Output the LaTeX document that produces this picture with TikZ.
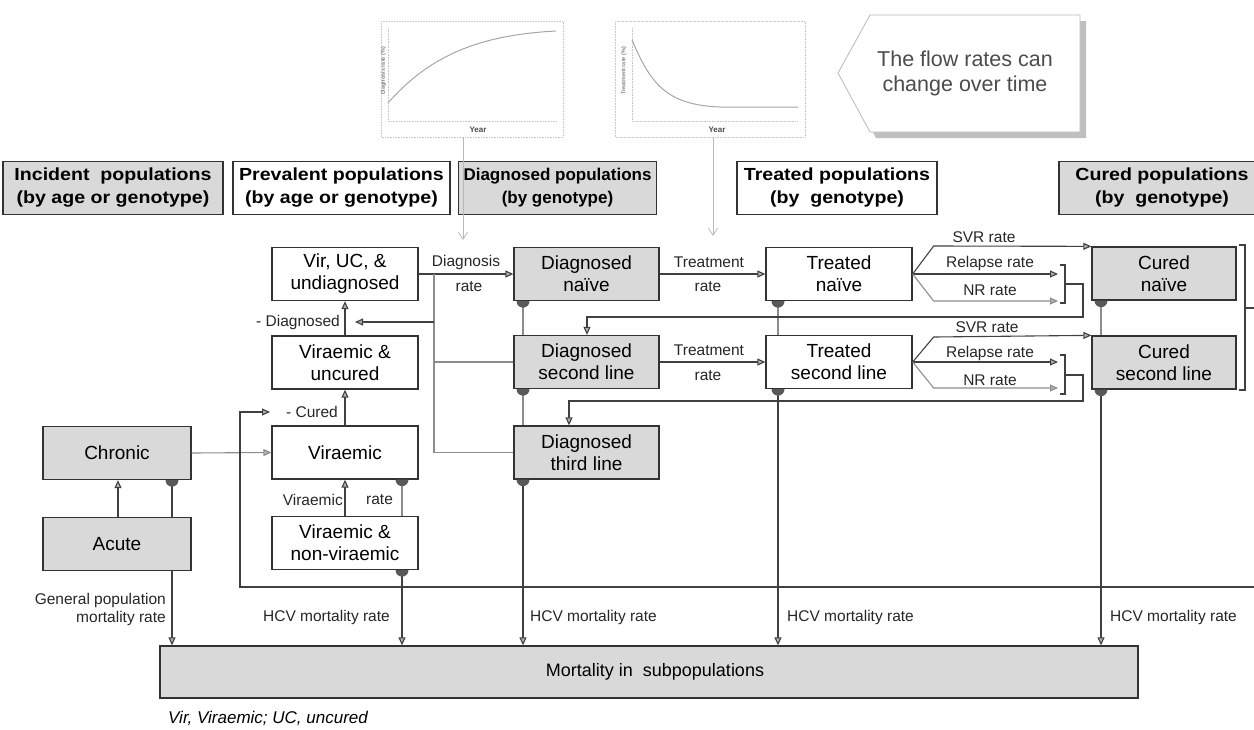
\documentclass[tikz,border=0pt]{standalone}
\usepackage{fontspec}
\setmainfont{Liberation Sans}
\newfontfamily\hdr[FakeStretch=1.12]{Liberation Sans}
\usetikzlibrary{arrows.meta}
\begin{document}
\begin{tikzpicture}[x=1pt,y=-1pt,
 box/.style={draw=black!80,line width=1.3pt,minimum width=146pt,minimum height=53pt,align=center,font=\fontsize{19}{22}\selectfont,inner sep=0pt},
 gbox/.style={box,fill=gray!30},
 wbox/.style={box,fill=white},
 hdrbox/.style={draw=black!80,line width=1.3pt,align=center,inner sep=0pt,minimum height=53pt,font=\hdr\bfseries\fontsize{17.5}{23}\selectfont},
 ln/.style={draw=black!75,line width=1.1pt},
 soft/.style={draw=black!45,line width=1.1pt},
 arr/.style={ln,-{Triangle[length=8pt,width=7pt,fill=gray!60]}},
 sarr/.style={soft,-{Triangle[length=8pt,width=7pt,fill=gray!60]}},
 garr/.style={draw=gray!55,line width=0.8pt,-{Straight Barb[length=7pt,width=9pt]}},
 lbl/.style={font=\fontsize{15.5}{18}\selectfont,inner sep=0pt,text=black!85},
 balls/.style={fill=black!65},
 chart/.style={draw=gray!45,line width=0.6pt,densely dotted}
]
\useasboundingbox (0,0) rectangle (1254,729);

% ---------- charts ----------
\draw[chart] (381,21) rectangle (563,137);
\draw[chart] (388,28) -- (388,121) -- (557,121);
\draw[gray!70,line width=1pt] (388,103) .. controls (430,55) and (480,35) .. (556,31);
\node[rotate=90,font=\bfseries\fontsize{5.5}{6}\selectfont,text=gray,inner sep=0pt] (ylab1) at (383.5,71) {Diagnosis rate (\%)};
\node[font=\bfseries\fontsize{8}{9}\selectfont,text=black!70,inner sep=0pt] (year1) at (478,130) {Year};
\coordinate (ch1) at (463,137);

\draw[chart] (615,21) rectangle (805,137);
\draw[chart] (632,28) -- (632,121) -- (798,121);
\draw[gray!70,line width=1pt] (632,40) .. controls (650,82) and (665,105) .. (720,107) -- (798,107);
\node[rotate=90,font=\bfseries\fontsize{5.5}{6}\selectfont,text=gray,inner sep=0pt] (ylab2) at (624,71) {Treatment rate (\%)};
\node[font=\bfseries\fontsize{8}{9}\selectfont,text=black!70,inner sep=0pt] (year2) at (717,130) {Year};
\coordinate (ch2) at (713,137);

% ---------- callout ----------
\fill[gray!50] (844,79) -- (876,21) -- (1086,21) -- (1086,138) -- (876,138) -- cycle;
\draw[gray!55,fill=white,line width=0.8pt] (838,73) -- (870,15) -- (1080,15) -- (1080,132) -- (870,132) -- cycle;
\node[text=black!70,font=\fontsize{21.5}{25}\selectfont,align=center] (call) at (965,73) {The flow rates can\\change over time};

% ---------- headers ----------
\node[hdrbox,fill=gray!30,minimum width=220pt] (hI) at (113,188) {Incident\ \ populations\\(by age or genotype)};
\node[hdrbox,fill=white,minimum width=217pt] (hP) at (341.5,188) {Prevalent populations\\(by age or genotype)};
\node[hdrbox,fill=gray!30,minimum width=198pt,font=\bfseries\fontsize{17}{23}\selectfont] (hD) at (557.5,188) {Diagnosed populations\\(by genotype)};
\node[hdrbox,fill=white,minimum width=200pt] (hT) at (837,188) {Treated populations\\(by\ \ genotype)};
\node[hdrbox,fill=gray!30,minimum width=206pt] (hC) at (1162,188) {Cured populations\\(by\ \ genotype)};

% ---------- model boxes ----------
\node[wbox] (vuc) at (345,274) {Vir, UC, \&\\undiagnosed};
\node[wbox] (vu) at (345,362.5) {Viraemic \&\\uncured};
\node[wbox] (vir) at (345,452.5) {Viraemic};
\node[wbox] (vnv) at (345,543) {Viraemic \&\\non-viraemic};
\node[gbox,minimum width=148pt] (chr) at (117,453) {Chronic};
\node[gbox,minimum width=148pt] (acu) at (117,544) {Acute};
\node[gbox,minimum width=145pt] (dn) at (586.5,274) {Diagnosed\\naïve};
\node[gbox,minimum width=145pt] (d2) at (586.5,362) {Diagnosed\\second line};
\node[gbox,minimum width=145pt] (d3) at (586.5,452.5) {Diagnosed\\third line};
\node[wbox] (tn) at (839,274) {Treated\\naïve};
\node[wbox] (t2) at (839,362) {Treated\\second line};
\node[gbox,minimum width=144pt] (cn) at (1164,273.5) {Cured\\naïve};
\node[gbox,minimum width=144pt] (c2) at (1164,362.5) {Cured\\second line};
\node[gbox,minimum width=978pt,minimum height=52pt] (mort) at (649,672) {};
\node[font=\fontsize{18}{20}\selectfont,inner sep=0pt] (mortt) at (655,672) {Mortality in\ \ subpopulations};

% ---------- x columns ----------
\coordinate (xC) at (172,0);
\coordinate (xA) at (118,0);
\coordinate (xV) at (402,0);
\coordinate (xL) at (434,0);
\coordinate (xD) at (523,0);
\coordinate (xT) at (778,0);
\coordinate (xK) at (1101,0);

% chart arrows
\draw[garr] (ch1) -- (ch1 |- 0,240);
\draw[garr] (ch2) -- (ch2 |- 0,236);

% ---------- prevalent column ----------
\draw[arr] (vir.north) -- (vu.south);
\draw[arr] (vu.north) -- (vuc.south);
\draw[arr] (vnv.north) -- (vir.south);
\node[lbl,anchor=east] (lv1) at (343,500) {Viraemic};
\node[lbl,anchor=west] (lv2) at (366,500) {rate};
\draw[soft] (vir.south -| xV) -- (vnv.north -| xV);
\draw[arr] (vnv.south -| xV) -- (mort.north -| xV);

% incident
\draw[arr] (acu.north -| xA) -- (chr.south -| xA);
\draw[ln] (chr.south -| xC) -- (acu.north -| xC);
\draw[arr] (acu.south -| xC) -- (mort.north -| xC);
\draw[sarr] (chr.east) -- (vir.west);
\node[lbl,align=right,anchor=east] (gpm) at (166,609) {General population\\mortality rate};

% diagnosis
\draw[arr] (vuc.east) -- (dn.west);
\node[lbl] (dr1) at (466,262) {Diagnosis};
\node[lbl] (dr2) at (469,287) {rate};
\draw[soft] (vuc.east -| xL) -- (d3.west -| xL) -- (d3.west);
\draw[soft] (d2.west -| xL) -- (d2.west);
\coordinate (dgtip) at (355,322);
\draw[arr] (dgtip -| xL) -- (dgtip);
\node[lbl,anchor=east] (dgl) at (340,322) {- Diagnosed};

% diagnosed column
\draw[soft] (dn.south -| xD) -- (d2.north -| xD);
\draw[soft] (d2.south -| xD) -- (d3.north -| xD);
\draw[arr] (d3.south -| xD) -- (mort.north -| xD);

% treatment
\draw[arr] (dn.east) -- (tn.west);
\node[lbl] (tr1) at (709,262) {Treatment};
\node[lbl] (tr2) at (708,287) {rate};
\draw[arr] (d2.east) -- (t2.west);
\node[lbl] (tr3) at (709,350) {Treatment};
\node[lbl] (tr4) at (708,376) {rate};

% treated column
\draw[soft] (tn.south -| xT) -- (t2.north -| xT);
\draw[arr] (t2.south -| xT) -- (mort.north -| xT);

% cured column
\draw[soft] (cn.south -| xK) -- (c2.north -| xK);
\draw[arr] (c2.south -| xK) -- (mort.north -| xK);

% outcomes treated naive
\coordinate (b1r) at (1058,274);
\coordinate (b1n) at (1058,301);
\draw[arr] (tn.east) -- ++(21,-28) -- (cn.north west);
\draw[arr] (tn.east) -- (b1r);
\draw[sarr] (tn.east) -- ++(21,27) -- (b1n);
\node[lbl] (s1) at (984,237) {SVR rate};
\node[lbl] (r1) at (990,263) {Relapse rate};
\node[lbl] (n1) at (990,290) {NR rate};
\draw[ln] (1060,265) -- (1065,265) -- (1065,303) -- (1060,303);
\draw[arr] (1065,284) -- (1083,284) -- (1083,317) -- (587,317) -- (d2.north -| 587,0);

% outcomes treated second line
\coordinate (b2r) at (1058,362);
\coordinate (b2n) at (1058,388);
\draw[arr] (t2.east) -- ++(21,-25) -- (c2.north west);
\draw[arr] (t2.east) -- (b2r);
\draw[sarr] (t2.east) -- ++(21,26) -- (b2n);
\node[lbl] (s2) at (987,327) {SVR rate};
\node[lbl] (r2) at (990,353) {Relapse rate};
\node[lbl] (n2) at (990,380) {NR rate};
\draw[ln] (1060,355) -- (1065,355) -- (1065,394) -- (1060,394);
\draw[arr] (1065,375) -- (1083,375) -- (1083,401) -- (569,401) -- (d3.north -| 569,0);

% cured bracket and loop
\draw[ln] (1239,245) -- (1245,245) -- (1245,390) -- (1239,390);
\draw[ln] (1245,308) -- (1256,308);
\coordinate (cutip) at (270,412);
\draw[arr] (1256,587) -- (240,587) -- (240,412) -- (cutip);
\node[lbl,anchor=west] (cul) at (286,412) {- Cured};

% HCV mortality labels
\node[lbl,anchor=east] (h1) at (390,617) {HCV mortality rate};
\node[lbl,anchor=west] (h2) at (530,617) {HCV mortality rate};
\node[lbl,anchor=west] (h3) at (787,617) {HCV mortality rate};
\node[lbl,anchor=west] (h4) at (1110,617) {HCV mortality rate};

% balls
\foreach \n/\c in {chr/xC,vir/xV,vnv/xV,dn/xD,d2/xD,d3/xD,tn/xT,t2/xT,cn/xK,c2/xK}{
  \fill[balls] (\n.south -| \c) ++(-6.5,0) arc[start angle=180,end angle=0,radius=6.5] -- cycle;
}

% footnote
\node[anchor=west,font=\itshape\fontsize{17}{20}\selectfont,inner sep=0pt] (fn) at (168,718) {Vir, Viraemic; UC, uncured};
\end{tikzpicture}
\end{document}
